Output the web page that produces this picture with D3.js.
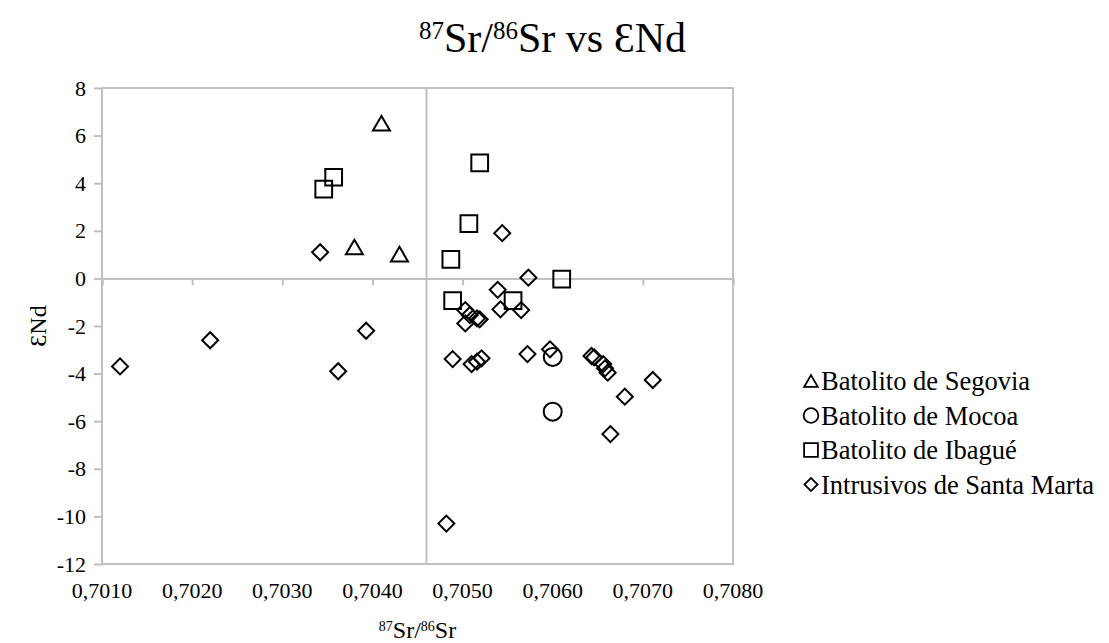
<!DOCTYPE html>
<html>
<head>
<meta charset="utf-8">
<script src="https://cdn.jsdelivr.net/npm/d3@7"></script>
</head>
<body style="margin:0">
<script>
// series data: [87Sr/86Sr, eNd]
const segovia = [[0.70410, 6.5], [0.70380, 1.3], [0.70430, 1.0]];
const mocoa = [[0.70600, -3.3], [0.70600, -5.6]];
const ibague = [
  [0.70519, 4.85], [0.70357, 4.25], [0.70346, 3.75], [0.70507, 2.3],
  [0.70487, 0.8], [0.70610, -0.03], [0.70489, -0.93], [0.70556, -0.93]
];
const santaMarta = [
  [0.70120, -3.7], [0.70220, -2.6], [0.70362, -3.9], [0.70393, -2.2],
  [0.70342, 1.1], [0.70482, -10.3], [0.70544, 1.9], [0.70573, 0.03],
  [0.70539, -0.48], [0.70503, -1.33], [0.70508, -1.54], [0.70516, -1.68],
  [0.70519, -1.72], [0.70503, -1.89], [0.70542, -1.3], [0.70565, -1.33],
  [0.70489, -3.39], [0.70510, -3.6], [0.70516, -3.5], [0.70521, -3.36],
  [0.70572, -3.18], [0.70597, -2.98], [0.70643, -3.26], [0.70646, -3.32],
  [0.70656, -3.6], [0.70658, -3.78], [0.70661, -3.96], [0.70711, -4.27],
  [0.70680, -4.97], [0.70664, -6.54]
];
const seriesNames = ["Batolito de Segovia", "Batolito de Mocoa", "Batolito de Ibagué", "Intrusivos de Santa Marta"];
const xTicks = [0.701, 0.702, 0.703, 0.704, 0.705, 0.706, 0.707, 0.708];
const yTicks = [-12, -10, -8, -6, -4, -2, 0, 2, 4, 6, 8];
const xCross = 0.7046; // vertical reference line

const w = 1109, h = 643;
const margin = { top: 88, right: 376, bottom: 79, left: 102 };
const serif = "Liberation Serif";

const svg = d3.select("body").append("svg")
  .attr("width", w).attr("height", h)
  .attr("font-family", serif);

const x = d3.scaleLinear().domain([0.701, 0.708]).range([margin.left, w - margin.right]);
const y = d3.scaleLinear().domain([-12, 8]).range([h - margin.bottom, margin.top]);

const grey = "#c0c0c0";

// plot area border
svg.append("rect")
  .attr("x", x(0.701)).attr("y", y(8))
  .attr("width", x(0.708) - x(0.701)).attr("height", y(-12) - y(8))
  .attr("fill", "none").attr("stroke", grey).attr("stroke-width", 2);

// vertical line
svg.append("line")
  .attr("x1", x(xCross)).attr("x2", x(xCross))
  .attr("y1", y(8)).attr("y2", y(-12))
  .attr("stroke", grey).attr("stroke-width", 2);

// x axis at eNd = 0
const xAxis = svg.append("g")
  .attr("transform", `translate(0,${y(0)})`)
  .call(d3.axisBottom(x).tickValues(xTicks).tickSize(7).tickFormat(""));
xAxis.select(".domain").attr("stroke", grey).attr("stroke-width", 2);
xAxis.selectAll(".tick line").attr("stroke", grey).attr("stroke-width", 2);

// x tick labels at bottom
svg.append("g").selectAll("text")
  .data(xTicks)
  .enter()
  .append("text")
  .attr("x", d => x(d))
  .attr("y", y(-12) + 34)
  .attr("text-anchor", "middle")
  .attr("font-size", 22)
  .text(d => d3.format(".4f")(d).replace(".", ","));

// y axis at left
const yAxis = svg.append("g")
  .attr("transform", `translate(${x(0.701)},0)`)
  .call(d3.axisLeft(y).tickValues(yTicks).tickSize(8).tickPadding(8))
  .attr("font-family", serif)
  .attr("font-size", 22);
yAxis.select(".domain").remove();
yAxis.selectAll(".tick line").attr("stroke", grey).attr("stroke-width", 2);
yAxis.selectAll(".tick text")
  .attr("fill", "#000")
  .text(d => d < 0 ? "-" + Math.abs(d) : d);

// markers
const shapes = [
  { data: segovia, path: d3.symbol().type(d3.symbolTriangle).size(125)(), rot: 0, dy: 2 },
  { data: mocoa, path: d3.symbol().type(d3.symbolCircle).size(254)(), rot: 0, dy: 0 },
  { data: ibague, path: d3.symbol().type(d3.symbolSquare).size(280)(), rot: 0, dy: 0 },
  { data: santaMarta, path: d3.symbol().type(d3.symbolSquare).size(128)(), rot: 45, dy: 0 }
];

shapes.forEach(s => {
  svg.append("g").selectAll("path")
    .data(s.data)
    .enter()
    .append("path")
    .attr("d", s.path)
    .attr("transform", d => `translate(${x(d[0])},${y(d[1]) + s.dy}) rotate(${s.rot})`)
    .attr("fill", "none")
    .attr("stroke", "#000")
    .attr("stroke-width", 2);
});

// legend
const legend = svg.append("g");
const legendPaths = [
  { path: d3.symbol().type(d3.symbolTriangle).size(80)(), rot: 0, dy: 2 },
  { path: d3.symbol().type(d3.symbolCircle).size(170)(), rot: 0, dy: 0 },
  { path: d3.symbol().type(d3.symbolSquare).size(190)(), rot: 0, dy: 0 },
  { path: d3.symbol().type(d3.symbolSquare).size(85)(), rot: 45, dy: 0 }
];
seriesNames.forEach((name, i) => {
  const ly = 381 + i * 34.5;
  legend.append("path")
    .attr("d", legendPaths[i].path)
    .attr("transform", `translate(811,${ly + legendPaths[i].dy}) rotate(${legendPaths[i].rot})`)
    .attr("fill", "none").attr("stroke", "#000").attr("stroke-width", 1.8);
  legend.append("text")
    .attr("x", 821).attr("y", ly)
    .attr("dy", "0.35em")
    .attr("font-size", 26.5)
    .text(name);
});

// title
const title = svg.append("text")
  .attr("x", w / 2 - 2).attr("y", 52)
  .attr("text-anchor", "middle")
  .attr("font-size", 42);
title.append("tspan").attr("baseline-shift", "super").attr("font-size", 25).text("87");
title.append("tspan").text("Sr/");
title.append("tspan").attr("baseline-shift", "super").attr("font-size", 25).text("86");
title.append("tspan").text("Sr vs ƐNd");

// x axis title
const xTitle = svg.append("text")
  .attr("x", (x(0.701) + x(0.708)) / 2).attr("y", 638)
  .attr("text-anchor", "middle")
  .attr("font-size", 24);
xTitle.append("tspan").attr("baseline-shift", "super").attr("font-size", 14).text("87");
xTitle.append("tspan").text("Sr/");
xTitle.append("tspan").attr("baseline-shift", "super").attr("font-size", 14).text("86");
xTitle.append("tspan").text("Sr");

// y axis title
svg.append("text")
  .attr("transform", `translate(46,${(y(8) + y(-12)) / 2}) rotate(-90)`)
  .attr("text-anchor", "middle")
  .attr("font-size", 24)
  .text("ƐNd");
</script>
</body>
</html>
